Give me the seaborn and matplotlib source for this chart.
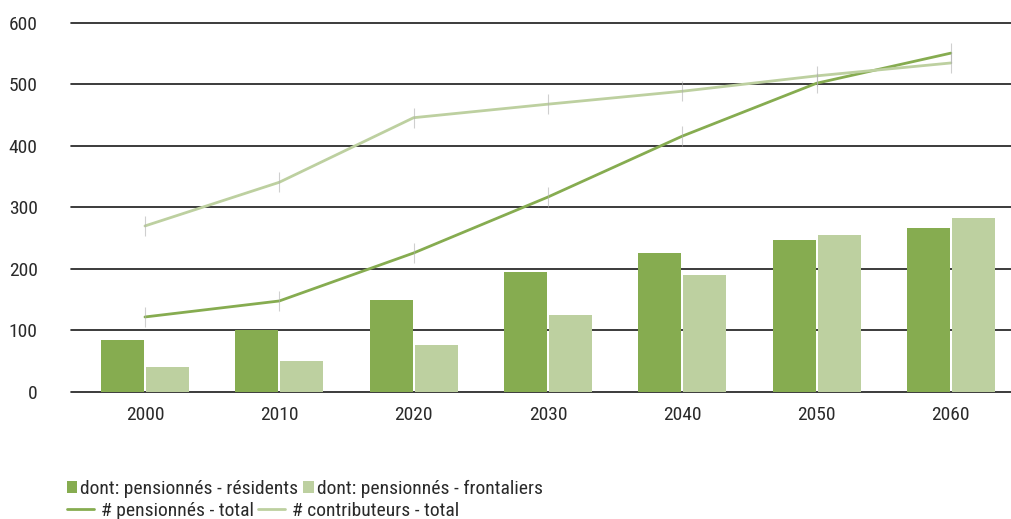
import numpy as np
import pandas as pd
import matplotlib
matplotlib.use("Agg")
import matplotlib.pyplot as plt
import seaborn as sns
from matplotlib.patches import Patch
from matplotlib.lines import Line2D
from matplotlib import font_manager

# data
years = ["2000", "2010", "2020", "2030", "2040", "2050", "2060"]
residents = [85, 100, 150, 195, 226, 247, 267]
frontaliers = [40, 50, 77, 125, 190, 255, 283]
pensionnes_total = [122, 148, 226, 317, 416, 502, 551]
contributeurs_total = [270, 341, 446, 468, 489, 514, 535]

lab_res = "dont: pensionnés - résidents"
lab_fro = "dont: pensionnés - frontaliers"
lab_pen = "# pensionnés - total"
lab_con = "# contributeurs - total"

DARK = "#86ac50"
LIGHT = "#bdd0a0"

sns.set_theme(style="white")
names = {f.name for f in font_manager.fontManager.ttflist}
cands = ["Liberation Sans Narrow", "Roboto Condensed", "Noto Sans Condensed",
         "Open Sans Condensed", "DejaVu Sans Condensed", "Lato"]
fam = next((c for c in cands if c in names), "DejaVu Sans")
narrow = fam != "Lato"
FS = 14 if narrow else 11
plt.rcParams["font.family"] = [fam, "DejaVu Sans"]
TXT = "#2a2a2a"

bars = pd.DataFrame({
    "year": years * 2,
    "value": residents + frontaliers,
    "serie": [lab_res] * len(years) + [lab_fro] * len(years),
})

fig = plt.figure(figsize=(10.11, 5.19), dpi=100)
ax = fig.add_axes([0.0702, 0.2447, 0.9298, 0.711])

sns.barplot(data=bars, x="year", y="value", hue="serie", order=years,
            palette=[DARK, LIGHT], width=0.67, gap=0.045, saturation=1,
            linewidth=0, legend=False, ax=ax, zorder=3)

xpos = np.arange(len(years))
for vals, col in [(pensionnes_total, DARK), (contributeurs_total, LIGHT)]:
    sns.lineplot(x=xpos, y=vals, color=col, linewidth=2.0, ax=ax, zorder=4)
    sns.scatterplot(x=xpos, y=vals, marker="|", s=220, color="#b0b0b0",
                    linewidth=0.8, alpha=0.6, ax=ax, zorder=5, legend=False)

ax.set_ylim(0, 600)
ax.set_xlim(-0.551, 6.448)
ax.set_yticks(range(0, 601, 100))
ax.yaxis.grid(True, color="#1a1a1a", linewidth=1.2)
for gl in ax.get_ygridlines():
    gl.set_clip_on(False)
ax.set_axisbelow(True)
for s in ax.spines.values():
    s.set_visible(False)
ax.tick_params(axis="y", length=0, pad=24, labelsize=FS, labelcolor=TXT)
ax.tick_params(axis="x", length=0, pad=10, labelsize=FS, labelcolor=TXT)
ax.set_xlabel("")
ax.set_ylabel("")

h1 = [Patch(facecolor=DARK, edgecolor="none"), Patch(facecolor=LIGHT, edgecolor="none")]
fig.legend(h1, [lab_res, lab_fro], loc="center left", ncol=2,
           bbox_to_anchor=(0.066, 1 - 489 / 519), frameon=False, fontsize=FS,
           handlelength=0.55, handleheight=0.55, handletextpad=0.15,
           columnspacing=0.25, borderpad=0, borderaxespad=0, labelcolor=TXT)
h2 = [Line2D([], [], color=DARK, linewidth=2.0), Line2D([], [], color=LIGHT, linewidth=2.0)]
fig.legend(h2, [lab_pen, lab_con], loc="center left", ncol=2,
           bbox_to_anchor=(0.066, 1 - 511 / 519), frameon=False, fontsize=FS,
           handlelength=1.4, handletextpad=0.36, columnspacing=0.2,
           borderpad=0, borderaxespad=0, labelcolor=TXT)

fig.savefig("out.png", dpi=100)
